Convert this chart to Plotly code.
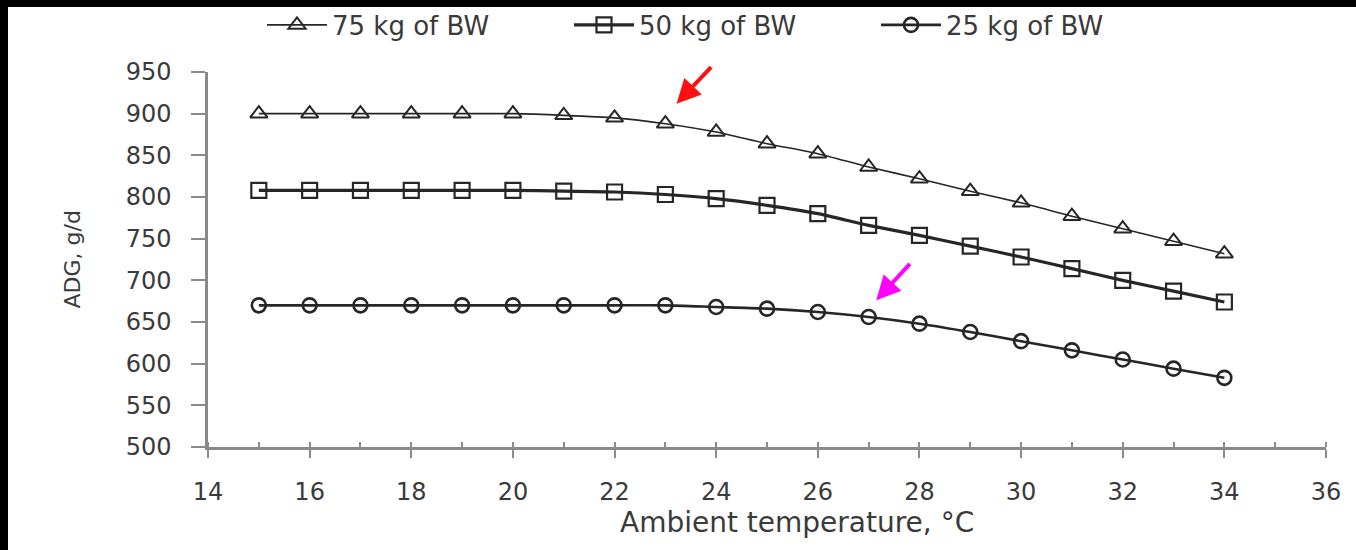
import plotly.graph_objects as go

temperature = list(range(15, 35))
adg_75 = [900, 900, 900, 900, 900, 900, 898, 895, 888, 878, 864, 852, 836, 822, 807, 793, 777, 762, 747, 732]
adg_50 = [808, 808, 808, 808, 808, 808, 807, 806, 803, 798, 790, 780, 766, 754, 741, 728, 714, 700, 687, 674]
adg_25 = [670, 670, 670, 670, 670, 670, 670, 670, 670, 668, 666, 662, 656, 648, 638, 627, 616, 605, 594, 583]

series_names = ["75 kg of BW", "50 kg of BW", "25 kg of BW"]
x_ticks = list(range(14, 37, 2))
y_ticks = list(range(500, 951, 50))

# arrow annotations: head (x, y) in data units, tail offset in px
arrow_red = dict(x=23.22, y=912, ax=36, ay=-38)
arrow_mag = dict(x=27.15, y=676, ax=35, ay=-38)

W, H = 1356, 550
ML, MR, MT, MB = 208, 30, 72, 103
PW = W - ML - MR
PH = H - MT - MB

FONT = "DejaVu Sans"
TXT = "#3a3a3a"
LINE = "#262626"
AXIS = "#8a8a8a"

fig = go.Figure()
fig.add_trace(go.Scatter(
    x=temperature, y=adg_75, name=series_names[0], mode="lines+markers",
    line=dict(color=LINE, width=1.6, shape="spline", smoothing=0.6),
    marker=dict(symbol="triangle-up-open", size=15, color=LINE, line=dict(width=2, color=LINE)),
))
fig.add_trace(go.Scatter(
    x=temperature, y=adg_50, name=series_names[1], mode="lines+markers",
    line=dict(color=LINE, width=3.2, shape="spline", smoothing=0.6),
    marker=dict(symbol="square-open", size=15, color=LINE, line=dict(width=2.2, color=LINE)),
))
fig.add_trace(go.Scatter(
    x=temperature, y=adg_25, name=series_names[2], mode="lines+markers",
    line=dict(color=LINE, width=2.6, shape="spline", smoothing=0.6),
    marker=dict(symbol="circle-open", size=14, color=LINE, line=dict(width=2.6, color=LINE)),
))

annotations = [
    dict(text="Ambient temperature, °C", xref="paper", yref="paper",
         x=(797 - ML) / PW, y=-(522 - (MT + PH)) / PH, xanchor="center", yanchor="middle",
         showarrow=False, font=dict(family=FONT, size=28, color=TXT)),
    dict(text="ADG, g/d", xref="paper", yref="paper", textangle=-90,
         x=(72 - ML) / PW, y=0.5, xanchor="center", yanchor="middle",
         showarrow=False, font=dict(family=FONT, size=22, color=TXT)),
]
for arr, col in ((arrow_red, "#ff1010"), (arrow_mag, "#ff00ff")):
    annotations.append(dict(x=arr["x"], y=arr["y"], ax=arr["ax"], ay=arr["ay"], xref="x", yref="y",
                            text="", showarrow=True, arrowhead=2, arrowsize=1.2, arrowwidth=4,
                            arrowcolor=col, standoff=0))

shapes = [
    dict(type="rect", xref="paper", yref="paper", x0=-ML / PW - 0.01, x1=(8 - ML) / PW,
         y0=-MB / PH - 0.01, y1=1 + MT / PH + 0.01, fillcolor="black", line=dict(width=0), layer="above"),
    dict(type="rect", xref="paper", yref="paper", x0=-ML / PW - 0.01, x1=1 + MR / PW + 0.01,
         y0=1 + (MT - 7) / PH, y1=1 + MT / PH + 0.01, fillcolor="black", line=dict(width=0), layer="above"),
]

fig.update_layout(
    width=W, height=H,
    margin=dict(l=ML, r=MR, t=MT, b=MB, pad=0, autoexpand=False),
    paper_bgcolor="white", plot_bgcolor="white",
    font=dict(family=FONT, color=TXT, size=24),
    showlegend=True,
    legend=dict(orientation="h", x=(262 - ML) / PW, xanchor="left",
                yref="container", y=1 - 25 / H, yanchor="middle",
                font=dict(family=FONT, size=26, color=TXT), entrywidth=232, entrywidthmode="pixels",
                itemwidth=60, bgcolor="rgba(0,0,0,0)"),
    annotations=annotations,
    shapes=shapes,
    xaxis=dict(range=[14, 36], tickvals=x_ticks, ticktext=[str(v) for v in x_ticks],
               showgrid=False, zeroline=False, showline=True, linecolor=AXIS, linewidth=2.5,
               ticks="outside", ticklen=8, tickwidth=2, tickcolor=AXIS,
               minor=dict(dtick=1, tick0=14, ticks="inside", ticklen=5, tickwidth=2, tickcolor=AXIS),
               ticklabelstandoff=13, tickfont=dict(family=FONT, size=24, color=TXT)),
    yaxis=dict(range=[500, 950], tickvals=y_ticks, ticktext=[str(v) for v in y_ticks],
               showgrid=False, zeroline=False, showline=True, linecolor=AXIS, linewidth=2.5,
               ticks="outside", ticklen=14, tickwidth=2, tickcolor=AXIS,
               ticklabelstandoff=15, tickfont=dict(family=FONT, size=24, color=TXT)),
)

fig.write_html("out.html")
